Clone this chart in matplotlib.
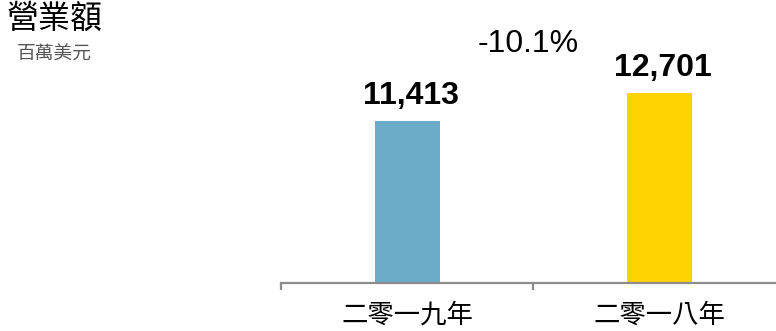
import matplotlib.pyplot as plt

plt.rcParams['font.family'] = ['Noto Sans CJK TC', 'DejaVu Sans']

categories = ["二零一九年", "二零一八年"]
values = [11413, 12701]
value_labels = ["11,413", "12,701"]
change_label = "-10.1%"
bar_colors = ["#6BACC8", "#FFD200"]

W, H = 776, 331
fig = plt.figure(figsize=(W / 100, H / 100), dpi=100)
ax = fig.add_axes([281 / W, (H - 283) / H, (W - 281) / W, 283 / H])

x = list(range(len(categories)))
bars = ax.bar(x, values, width=0.258, color=bar_colors, zorder=2)
ax.set_xlim(-0.5, 1.464)
ax.set_ylim(3960, 16980)

for s in ["top", "right", "left"]:
    ax.spines[s].set_visible(False)
ax.spines["bottom"].set_color("#8c8c8c")
ax.spines["bottom"].set_linewidth(1.6)
ax.set_yticks([])
ax.set_xticks([-0.5, 0.5])
ax.set_xticklabels([])
ax.tick_params(axis="x", length=5, width=1.6, color="#8c8c8c", direction="out")

for xi, cat in zip(x, categories):
    ax.annotate(cat, (xi, 3960), xytext=(0, -23), textcoords="offset points",
                ha="center", va="center", fontsize=19, color="black")

for b, lab in zip(bars, value_labels):
    ax.annotate(lab, (b.get_x() + b.get_width() / 2, b.get_height()),
                xytext=(2.5, 12), textcoords="offset points", ha="center",
                va="baseline", fontsize=23, fontweight="bold",
                family="Liberation Sans", color="black")

fig.text(528 / W, 1 - 52 / H, change_label, ha="center", va="baseline",
         fontsize=23, family="Liberation Sans", color="black")

fig.text(7 / W, 1 - 3 / H, "營業額", ha="left", va="top", fontsize=23, color="black")
fig.text(17 / W, 1 - 44 / H, "百萬美元", ha="left", va="top", fontsize=13.5, color="#555555")

fig.savefig("out.png", dpi=100)
